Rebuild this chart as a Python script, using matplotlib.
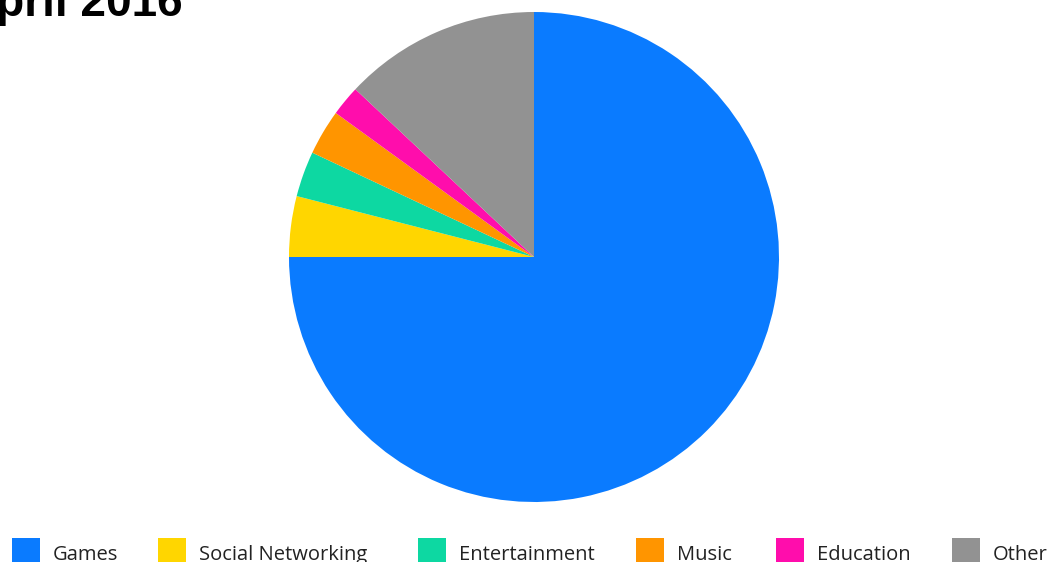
import matplotlib
matplotlib.use("Agg")
import matplotlib.pyplot as plt
from matplotlib.patches import Rectangle

# share of downloads by category
categories = ["Games", "Social Networking", "Entertainment", "Music", "Education", "Other"]
shares = [75, 4, 3, 3, 2, 13]
colors = ["#0a7bff", "#ffd600", "#0dd8a2", "#ff9500", "#ff0dac", "#929292"]

W, H = 1048, 562
fig = plt.figure(figsize=(W / 100, H / 100), dpi=100)

# pie centred at (534, 257) px, radius 245 px
cx, cy, r = 534, 257, 245
ax = fig.add_axes([(cx - r) / W, (H - cy - r) / H, 2 * r / W, 2 * r / H])
ax.pie(shares, colors=colors, startangle=90, counterclock=False, radius=1,
       wedgeprops=dict(linewidth=0))
ax.set_xlim(-1, 1)
ax.set_ylim(-1, 1)
ax.set_aspect("equal")
ax.axis("off")

# title, partly running off the top-left corner
fig.text(183 / W, 1 - 16 / H, "April 2016", ha="right", va="baseline",
         fontsize=33, fontweight="bold", family="Liberation Sans")

# legend row along the bottom edge
square_x = [12, 158, 418, 636, 776, 952]
for x, name, c in zip(square_x, categories, colors):
    fig.patches.append(Rectangle((x / W, 0), 28 / W, 24 / H, transform=fig.transFigure,
                                 facecolor=c, edgecolor="none"))
    fig.text((x + 41) / W, 1 - 560 / H, name, ha="left", va="baseline",
             fontsize=14.5, family="Open Sans", color="#222222")

fig.savefig("out.png", dpi=100)
